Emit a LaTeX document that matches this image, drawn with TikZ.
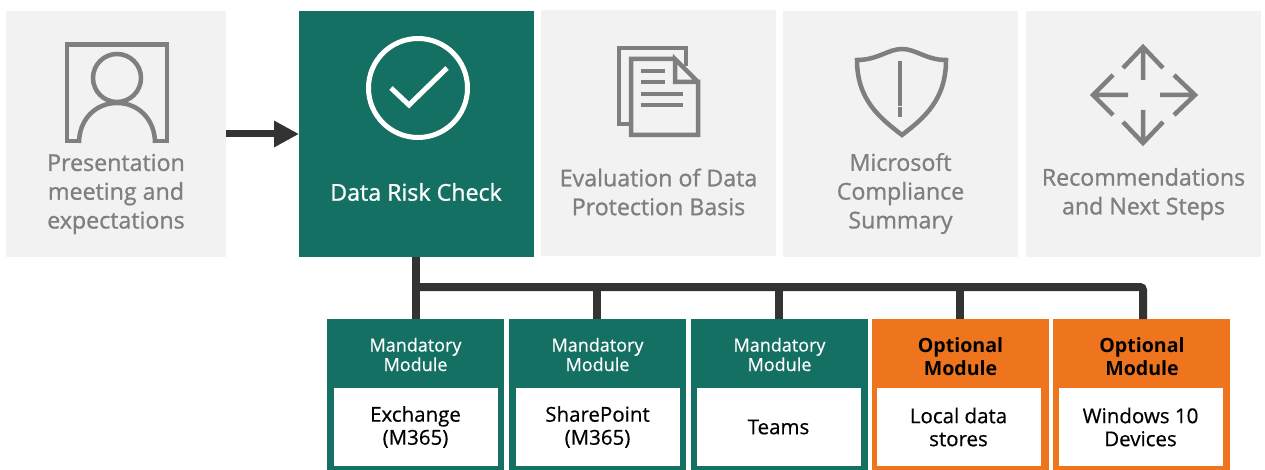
\documentclass[tikz,border=0pt]{standalone}
\usepackage{fontspec}
\setmainfont{Open Sans}
\newfontfamily\semifont[FakeBold=1]{Open Sans}
\newfontfamily\midfont[FakeBold=0.5]{Open Sans}
\usepackage{xcolor}
\usetikzlibrary{positioning, arrows.meta}
\definecolor{riskgreen}{HTML}{147063}
\definecolor{riskorange}{HTML}{EE741D}
\definecolor{paleback}{HTML}{F2F2F2}
\definecolor{icongrey}{HTML}{7F7F7F}
\definecolor{linkdark}{HTML}{333333}
\tikzset{
  stagebox/.style={fill=paleback, inner sep=0, outer sep=0, minimum width=235pt, minimum height=246pt},
  stagetext/.style={text=icongrey, align=center, inner sep=0, font=\semifont\fontsize{23.2}{28.8}\selectfont},
  modbox/.style={inner sep=0, outer sep=0, minimum width=177pt, minimum height=151pt},
  modinner/.style={fill=white, inner sep=0, outer sep=0, minimum width=164pt, minimum height=78pt, align=center, text=black, font=\midfont\fontsize{20.5}{23}\selectfont},
  mandtext/.style={text=white, align=center, inner sep=0, font=\midfont\fontsize{18}{19.5}\selectfont},
  opttext/.style={text=black, align=center, inner sep=0, font=\fontsize{19.6}{23}\selectfont\bfseries},
  icon/.style={draw=icongrey, line width=4.5pt},
  link/.style={draw=linkdark, line width=8pt},
}
\begin{document}
\begin{tikzpicture}[x=1pt, y=-1pt]
\useasboundingbox (0, 0) rectangle (1265, 470);
% top row
\node [stagebox, minimum width=220pt] (intro) at (116, 134) {};
\node [stagebox, fill=riskgreen] (check) at (416.5, 134) {};
\node [stagebox] (basis) at (658.5, 133) {};
\node [stagebox] (summary) at (900.5, 134) {};
\node [stagebox] (steps) at (1143.5, 134) {};
\node [stagetext] (introtext) at (116, 194) {Presentation\\meeting and\\expectations};
\node [stagetext, text=white] (checktext) at (416, 192) {Data Risk Check};
\node [stagetext] (basistext) at (658.5, 192) {Evaluation of Data\\Protection Basis};
\node [stagetext] (summarytext) at (900.5, 193.5) {Microsoft\\Compliance\\Summary};
\node [stagetext] (stepstext) at (1143.5, 194) {Recommendations\\and Next Steps};
% modules
\node [modbox, fill=riskgreen] (exchange) at (415.5, 394.5) {};
\node [modbox, fill=riskgreen] (sharepoint) at (597.5, 394.5) {};
\node [modbox, fill=riskgreen] (teams) at (779.5, 394.5) {};
\node [modbox, fill=riskorange] (local) at (960.5, 394.5) {};
\node [modbox, fill=riskorange] (windows) at (1141.5, 394.5) {};
\node [mandtext] (exchangehead) at (415.5, 354.5) {Mandatory\\Module};
\node [mandtext] (sharepointhead) at (597.5, 354.5) {Mandatory\\Module};
\node [mandtext] (teamshead) at (779.5, 354.5) {Mandatory\\Module};
\node [opttext] (localhead) at (960.5, 357) {Optional\\Module};
\node [opttext] (windowshead) at (1142, 357) {Optional\\Module};
\node [modinner] (exchangename) at (415.5, 427) {Exchange\\(M365)};
\node [modinner] (sharepointname) at (597.5, 427) {SharePoint\\(M365)};
\node [modinner] (teamsname) at (778.5, 427) {Teams};
\node [modinner] (localname) at (958.5, 427) {Local data\\stores};
\node [modinner] (windowsname) at (1140.5, 427) {Windows 10\\Devices};
% connectors
\coordinate (bus) at (416, 287);
\coordinate (windowsdrop) at ([xshift=1.5pt]windows.north);
\draw [draw=linkdark, line width=7pt, -{Triangle[length=25pt, width=25pt]}] (intro.east |- 0, 134) -- (check.west |- 0, 134);
\draw [link] (check.south -| bus) -- (exchange.north -| bus);
\draw [link, rounded corners=3pt] (bus) -| (windowsdrop);
\foreach \m in {sharepoint, teams, local} \draw [link] ([xshift=-0.5pt]bus -| \m.north) -- ([xshift=-0.5pt]\m.north);
% person icon
\draw [icon] (79, 141) -- (67, 141) -- (67, 44.5) -- (167, 44.5) -- (167, 141) -- (155, 141);
\draw [icon] (117, 78) circle (24);
\draw [icon] (79, 143) .. controls (79, 120) and (95, 103) .. (117, 103) .. controls (139, 103) and (155, 120) .. (155, 143);
% check icon
\draw [draw=white, line width=5pt] (418, 88) circle (49.5);
\draw [draw=white, line width=5pt] (391, 88) -- (409, 105) -- (447, 68);
% document icon
\draw [icon] (629, 124) -- (619, 124) -- (619, 48) -- (686, 48) -- (686, 66);
\draw [icon] (675, 59) -- (631, 59) -- (631, 135) -- (698, 135) -- (698, 82) -- (675, 82) -- (675, 59) -- (698, 82);
\foreach \y in {71, 82} \draw [icon] (641, \y) -- (665, \y);
\foreach \y in {94, 105} \draw [icon] (641, \y) -- (683, \y);
% shield icon
\draw [icon] (902, 135) .. controls (880, 118) and (857, 100) .. (857, 60) .. controls (878, 60) and (888, 49) .. (902, 49) .. controls (916, 49) and (926, 60) .. (946, 60) .. controls (946, 100) and (924, 118) .. (902, 135) -- cycle;
\draw [icon] (900, 61) -- (900, 106);
\draw [icon] (900, 107.5) -- (900, 117);
% arrows icon
\draw [icon] (1143, 80) -- (1143, 48) (1123, 68) -- (1143, 47) -- (1163, 68);
\draw [icon] (1143, 110) -- (1143, 142) (1123, 122) -- (1143, 143) -- (1163, 122);
\draw [icon] (1128, 95) -- (1094, 95) (1113, 75) -- (1093, 95) -- (1113, 115);
\draw [icon] (1160, 95) -- (1194, 95) (1174, 75) -- (1195, 95) -- (1174, 115);
\end{tikzpicture}
\end{document}
